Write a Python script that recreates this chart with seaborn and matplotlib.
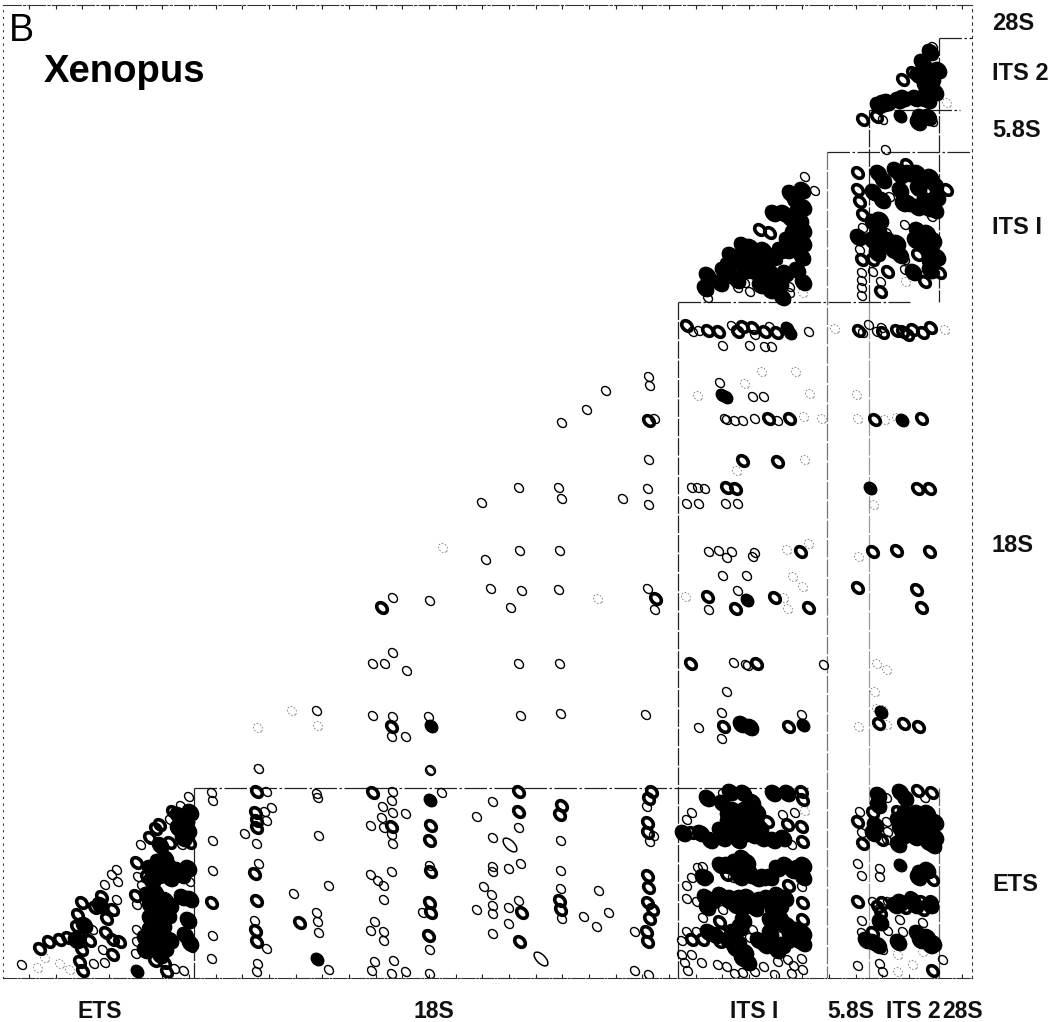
import numpy as np
import pandas as pd
import matplotlib
matplotlib.use('Agg')
import matplotlib.pyplot as plt
from matplotlib.path import Path
from matplotlib.transforms import Affine2D
import seaborn as sns

# helix spots, (5' position, 3' position)
thin_spots = [
    # 18S x 18S and 18S x ETS
    (393,792),(392,801),(383,807),(393,813),(406,814),(382,818),(371,826),(384,828),(392,835),(393,844),
    (442,793),(431,770),(493,802),(477,817),(519,828),(493,838),(561,841),(647,807),(654,836),(650,842),
    (430,866),(493,867),(493,872),(509,869),(521,864),(561,871),(392,872),(371,875),(378,881),(384,886),
    (484,887),(492,895),(561,889),(599,891),(384,900),(493,906),(477,910),(493,914),(509,908),(519,901),
    (423,913),(562,919),(584,917),(609,913),(597,927),(509,924),(375,922),(371,931),(384,932),(384,941),
    (493,934),(635,932),(430,950),(375,962),(394,961),(372,971),(392,974),(406,972),(430,974),(635,971),(649,975),
    (259,769),(212,793),(213,801),(267,792),(265,812),(272,808),(267,821),(245,834),(213,841),(319,836),
    (257,844),(259,864),(213,871),(329,886),(294,894),(255,921),(317,913),(318,922),(319,933),(213,936),
    (267,949),(212,959),(258,964),(257,972),(329,970),(317,794),(318,798),
    # ETS x ETS
    (22,965),(103,950),(94,964),(105,963),(93,930),(117,900),(105,885),(112,875),(117,870),(118,882),
    (136,954),(137,942),(137,930),(137,905),(142,886),(138,877),(190,882),(183,878),(175,969),(184,971),
    (192,948),(141,845),(170,820),(182,845),(189,797),(181,806),
    # ITS1 x ETS
    (723,794),(692,813),(687,820),(783,815),(795,813),(792,845),(703,867),(698,868),(692,878),(687,886),
    (733,878),(802,887),(687,899),(697,902),(723,910),(703,918),(697,932),(687,932),(682,941),(753,930),
    (750,938),(682,955),(692,955),(685,963),(688,971),(702,963),(718,965),(727,967),(735,974),(743,973),
    (755,972),(764,967),(775,975),(778,962),(788,960),(802,959),(794,966),(803,970),(792,974),
    # ITS2 x ETS
    (887,798),(925,798),(860,812),(862,833),(887,822),(888,832),(887,840),(858,864),(862,876),(880,869),
    (880,877),(873,902),(888,902),(900,920),(862,921),(862,933),(888,931),(903,932),(883,950),(923,923),
    (858,966),(880,964),(883,972),(943,960),
    # rows over 18S
    (709,552),(719,551),(732,552),(727,558),(755,553),(753,557),(723,576),(747,576),(738,591),(709,610),
    (734,663),(746,665),(748,666),(824,665),(727,692),(722,713),(699,728),(722,739),(802,715),
    (693,332),(699,331),(732,326),(755,335),(770,327),(809,332),(723,346),(750,346),(765,347),(772,347),
    (863,333),(869,325),(877,332),(882,328),(720,383),(753,397),(764,397),(725,419),(727,420),(735,421),
    (743,421),(755,419),(778,421),(692,488),(698,488),(705,489),(687,504),(699,504),(726,504),(738,504),
    # 18S x 18S upper part
    (649,377),(650,386),(606,391),(587,410),(562,423),(655,419),(649,460),(519,488),(559,488),(562,499),
    (482,503),(648,489),(649,505),(623,499),(520,551),(560,551),(486,560),(491,589),(522,591),(559,590),
    (648,589),(655,610),(511,608),(430,601),(393,598),(393,653),(373,664),(385,664),(407,671),(519,664),
    (560,664),(317,711),(373,716),(393,717),(392,737),(406,737),(429,717),(521,716),(561,714),(646,715),(430,771),
    # top right
    (708,298),(745,283),(750,292),(738,288),(790,293),(778,260),(805,177),(815,191),(790,287),
    (863,228),(860,250),(862,273),(862,281),(862,288),(862,296),(873,272),(881,282),(890,197),(878,217),
    (887,233),(932,217),(905,225),(905,260),(905,270),(933,47),(886,150),(883,120),(933,122),
]
thick_spots = [
    (373,793),(519,792),(519,812),(562,806),(560,815),(652,792),(649,799),(392,827),(431,826),(430,841),
    (648,823),(648,833),(431,872),(648,876),(649,888),(560,901),(561,910),(430,903),(431,913),(522,913),
    (648,903),(653,910),(650,919),(647,932),(648,942),(429,936),(520,942),
    (257,792),(256,813),(257,821),(257,828),(255,874),(257,901),(212,903),(300,923),(256,931),(257,942),
    (40,949),(49,942),(60,940),(68,938),(80,937),(90,941),(82,950),(80,962),(83,971),(82,903),(78,915),
    (77,927),(95,908),(102,897),(107,919),(113,910),(106,933),(113,940),(120,942),(113,955),
    (136,896),(137,863),(147,877),(167,972),(155,961),(165,963),(150,838),(170,843),(160,825),(156,829),
    (173,812),(190,843),
    (802,792),(803,800),(692,833),(703,833),(768,822),(788,825),(802,827),(803,842),(707,877),(727,875),
    (789,886),(692,940),(703,940),(720,942),(722,933),(803,903),(803,920),(720,922),(788,942),
    (918,791),(932,793),(858,822),(863,844),(873,813),(882,840),(898,812),(933,880),(858,902),(873,933),
    (933,971),(883,903),(878,907),(881,913),(898,903),(905,908),(912,898),(922,902),(932,902),(923,910),
    (801,552),(708,597),(736,609),(775,598),(809,608),(873,552),(897,551),(930,552),(858,588),(917,590),
    (922,608),(691,664),(757,664),(724,727),(789,727),(879,724),(904,724),(919,727),
    (687,326),(708,331),(719,332),(738,332),(743,327),(753,328),(765,332),(777,333),(859,331),(883,333),
    (897,331),(908,335),(903,332),(913,330),(923,333),(931,328),(769,419),(790,419),(875,420),(922,419),
    (743,461),(778,462),(727,488),(736,489),(918,489),(930,489),(649,421),(656,599),(382,608),(392,727),
    (760,230),(770,233),(858,173),(858,190),(860,202),(863,215),(862,260),(873,260),(881,292),(888,272),
    (907,165),(947,190),(918,255),(925,282),(940,273),(913,73),(903,80),(863,120),(877,117),
]
solid_spots = [
    (430,800),(317,959),(137,971),(900,865),(803,725),(431,726),(722,395),(726,397),(787,328),(790,333),
    (900,116),(747,600),(902,420),(881,712),(870,488),
]
blob_spots = [
    # ETS x ETS
    (147,895),(155,892),(165,900),(150,905),(160,910),(170,905),(150,918),(160,920),(150,930),(160,935),
    (145,938),(155,945),(165,948),(160,955),(150,868),(158,862),(168,865),(158,875),(170,878),(152,880),
    (182,897),(190,899),(188,920),(185,935),(190,943),(188,868),(182,875),(160,845),(178,815),(186,820),
    (178,828),(188,830),(183,838),(190,812),
    (84,925),(76,940),(100,905),
    # ITS1 x ETS
    (707,798),(722,803),(730,792),(743,793),(752,802),(757,812),(773,793),(787,793),(728,815),(728,822),
    (740,827),(752,820),(745,833),(738,840),(753,835),(723,838),(683,833),(710,840),(773,840),(783,838),
    (720,865),(727,865),(742,858),(747,862),(742,870),(703,877),(740,877),(750,875),(757,878),(763,877),
    (770,877),(777,868),(785,865),(803,865),(803,877),(705,897),(707,907),(720,895),(730,898),(740,898),
    (747,897),(753,902),(767,898),(777,895),(785,898),(773,910),(780,918),(787,925),(743,920),(740,927),
    (708,932),(733,932),(738,942),(745,952),(748,962),(758,940),(770,933),(773,943),(777,950),(797,930),
    (803,933),(803,943),
    # ITS2 x ETS
    (878,795),(900,792),(905,798),(875,825),(873,833),(898,820),(900,828),(898,844),(917,813),(927,813),
    (920,827),(930,827),(935,822),(935,837),(923,837),(933,845),(920,873),(927,870),(918,877),(880,922),
    (873,942),(878,945),(898,942),(917,933),(927,937),(933,943),
    # single spots
    (741,724),(750,727),
    # ITS1 x ITS1
    (707,275),(705,288),(723,270),(730,255),(742,245),(750,247),(742,257),(755,257),(737,280),
    (750,270),(757,273),(765,282),(770,290),(782,297),(763,250),(773,257),(787,250),(802,257),(803,243),
    (803,230),(793,233),(787,240),(783,213),(797,213),(803,207),(773,213),(790,193),(802,190),(770,272),
    (777,277),(785,273),(780,283),(797,270),(803,282),
    # ITS2 x ITS1
    (858,237),(878,173),(883,180),(873,192),(882,200),(878,230),(880,243),(897,243),(900,255),(877,253),
    (900,175),(917,173),(930,177),(900,190),(903,203),(937,197),(917,207),(928,208),(918,188),(917,230),
    (927,233),(933,240),(920,243),(930,250),(937,257),(913,272),(930,270),
    # ITS2 x ITS2, 5.8S
    (930,52),(922,62),(918,75),(932,78),(935,92),(923,98),(915,98),(903,98),(898,100),(883,103),(878,105),
    (887,102),(920,117),(928,117),(918,122),
    # extra helices inside the dark patches
    (163,925),(155,900),(168,915),(145,950),(170,940),(165,858),(160,868),(177,870),
    (733,810),(738,815),(745,810),(733,830),(720,830),(760,828),(762,838),(700,833),
    (735,905),(745,905),(755,908),(760,900),(780,905),(770,920),(783,925),(728,900),(712,900),
    (715,935),(728,940),(735,948),(742,958),(765,945),(782,945),(790,935),(798,940),
    (735,862),(748,870),(792,870),(798,868),
    (878,805),(905,813),(905,825),(903,835),(913,820),(925,820),(925,830),(915,837),(928,842),
    (866,940),(920,940),(930,945),(912,900),(895,905),(930,905),(900,902),(915,905),
    (895,170),(908,173),(925,180),(935,185),(908,203),(925,200),(935,210),(915,240),(925,245),(888,240),(893,250),
    (873,222),(880,220),(872,240),(918,235),(930,262),
    (735,258),(728,265),(760,262),(768,255),(780,250),(795,245),(800,220),(790,218),(795,200),
    (720,283),(730,275),(745,270),(760,285),(775,283),
    (926,68),(925,85),(928,100),(938,70),(930,90),
]
faint_spots = [
    (38,968),(45,958),(60,964),(70,970),(805,811),(898,955),(898,972),(923,952),(913,965),
    (787,550),(809,544),(793,577),(686,597),(784,598),(788,609),(803,587),(859,557),(877,664),(887,670),
    (875,692),(877,709),(883,710),(859,727),(887,725),(835,329),(945,330),(762,372),(796,372),(745,384),
    (698,396),(810,394),(857,395),(804,417),(822,419),(858,419),(885,420),(897,418),(737,471),(805,460),
    (874,505),(443,548),(598,599),(292,711),(318,726),(258,728),(258,769),(803,293),(906,282),(947,103),
]
long_spots = [(510,845),(541,959)]

section_labels = ['ETS', '18S', 'ITS I', '5.8S', 'ITS 2', '28S']
bottom_label_x = [100, 434, 754, 851, 913, 963]
side_label_y = [884, 546, 228, 131, 74, 24]

# section boundaries: x, start, end and grey level of each vertical run
vertical_x = [194, 678, 827, 869, 869, 939, 939]
vertical_from = [788, 302, 152, 110, 302, 38, 788]
vertical_to = [978, 978, 978, 302, 978, 302, 978]
vertical_color = ['#222222', '#222222', '#777777', '#222222', '#999999', '#222222', '#666666']
# y, start, end of each horizontal run
horizontal_y = [788, 302, 152, 110, 38]
horizontal_from = [194, 678, 827, 869, 939]
horizontal_to = [808, 910, 972, 960, 972]


def spot_marker(aspect):
    # ellipse leaning along the main diagonal of the matrix
    circle = Path.unit_circle()
    return Affine2D().scale(aspect, 1).rotate_deg(45).transform_path(circle)


def draw_spots(ax, spots, marker, size, lw, edge='black', face='none', ls='-'):
    df = pd.DataFrame(spots, columns=['five', 'three'])
    sns.scatterplot(data=df, x='five', y='three', marker=marker, s=size, linewidth=lw,
                    edgecolor=edge, facecolor=face, linestyle=ls, legend=False, ax=ax, zorder=3)


sns.set_style('white')
plt.rcParams['font.family'] = ['Liberation Sans', 'DejaVu Sans']

fig = plt.figure(figsize=(10.64, 10.22), dpi=100)
ax = fig.add_axes([3 / 1064, 1 - 978 / 1022, 969 / 1064, 973 / 1022])

draw_spots(ax, faint_spots, spot_marker(0.8), 44, 0.6, edge='#777777', ls=(0, (2, 2)))
draw_spots(ax, blob_spots, spot_marker(0.8), 145, 1.0, face='black')
draw_spots(ax, thin_spots, spot_marker(0.78), 44, 1.0)
draw_spots(ax, thick_spots, spot_marker(0.72), 62, 2.6)
draw_spots(ax, solid_spots, spot_marker(0.8), 85, 1.0, face='black')
draw_spots(ax, long_spots, spot_marker(0.5), 105, 1.1)

ax.set_xlim(3, 972)
ax.set_ylim(978, 5)
ax.set(xlabel='', ylabel='')

for x, y0, y1, c in zip(vertical_x, vertical_from, vertical_to, vertical_color):
    ax.plot([x, x], [y0, y1], color=c, lw=0.9, ls=(0, (14, 1.5)), zorder=2)
for y, x0, x1 in zip(horizontal_y, horizontal_from, horizontal_to):
    ax.plot([x0, x1], [y, y], color='#222222', lw=0.9, ls=(0, (18, 2, 2, 2)), zorder=2)

ax.spines['left'].set_linestyle((0, (1, 5)))
ax.spines['right'].set_linestyle((0, (2, 4)))
ax.spines['top'].set_linestyle((0, (16, 2, 2, 2)))
ax.spines['bottom'].set_linestyle((0, (12, 1.5, 1.5, 1.5)))
for side in ax.spines:
    ax.spines[side].set_visible(True)
    ax.spines[side].set_color('#333333')
    ax.spines[side].set_linewidth(0.8)

ax.set_xticks(np.arange(29, 972, 26.67))
ax.set_yticks([])
ax.tick_params(axis='x', which='major', bottom=True, top=True, direction='in', length=3, width=0.8,
               labelbottom=False, color='#222222')

for name, x in zip(section_labels, bottom_label_x):
    ax.text(x, 1011, name, ha='center', va='center', fontsize=16.5, fontweight='bold', color='#111111')
for name, y in zip(section_labels, side_label_y):
    ax.text(992, y, name, ha='left', va='center', fontsize=17, fontweight='bold', color='#111111')

ax.text(21, 31, 'B', ha='center', va='center', fontsize=27, color='black')
ax.text(124, 72, 'Xenopus', ha='center', va='center', fontsize=27.5, fontweight='bold', color='black')

fig.savefig('out.png', dpi=100)
